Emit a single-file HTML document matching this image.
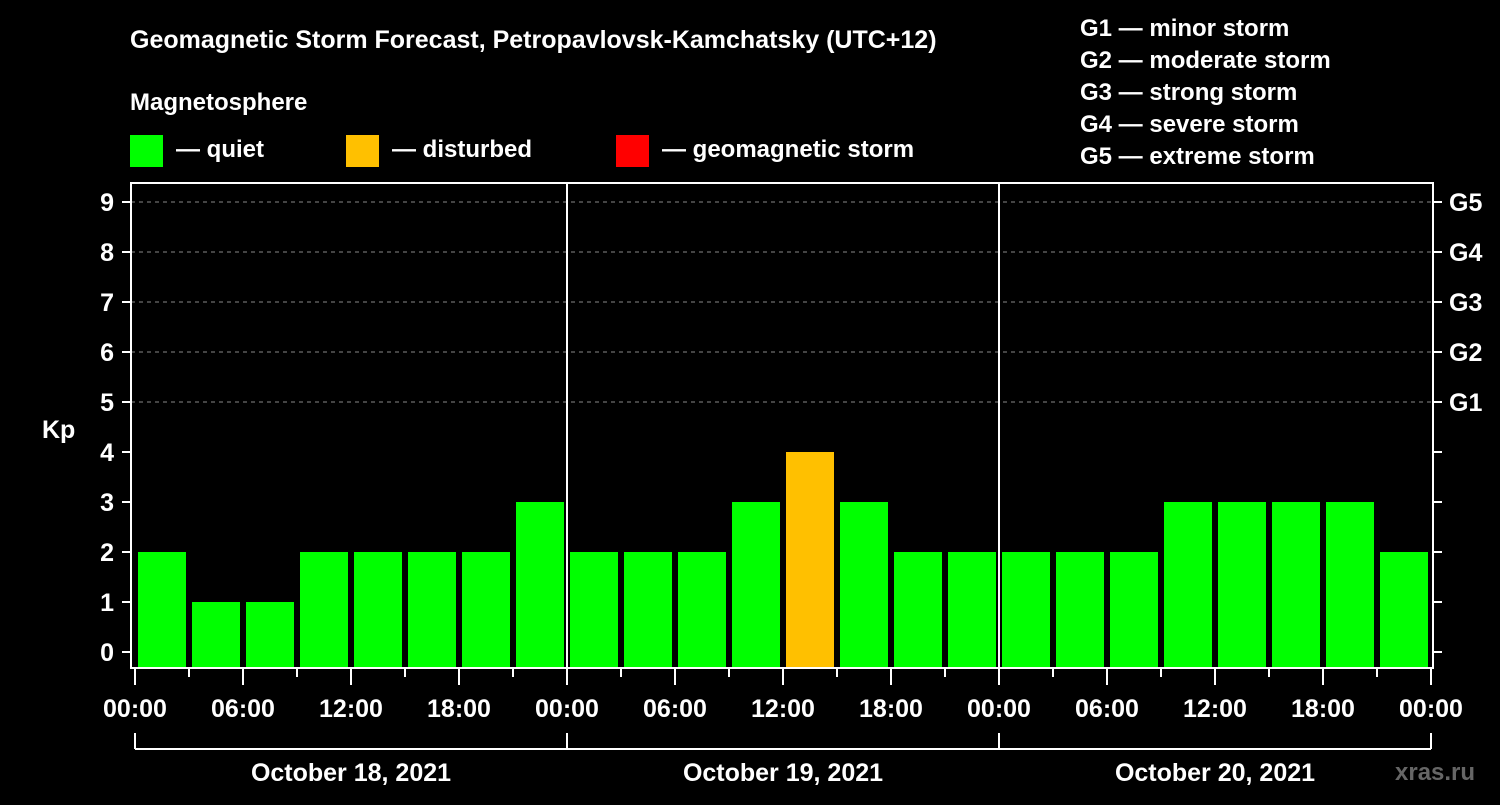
<!DOCTYPE html>
<html><head><meta charset="utf-8"><style>
body{margin:0;background:#000;width:1500px;height:800px;overflow:hidden}
svg text{font-family:"Liberation Sans",Arial,sans-serif;font-weight:bold;fill:#fff}
</style></head><body>
<svg id="c" width="1500" height="800">
<text x="130" y="48" font-size="25">Geomagnetic Storm Forecast, Petropavlovsk-Kamchatsky (UTC+12)</text>
<text x="130" y="110" font-size="24">Magnetosphere</text>
<g><rect x="130" y="135" width="33" height="32" fill="#00ff00"/><text x="176" y="157" font-size="24">— quiet</text></g>
<g><rect x="346" y="135" width="33" height="32" fill="#ffc000"/><text x="392" y="157" font-size="24">— disturbed</text></g>
<g><rect x="616" y="135" width="33" height="32" fill="#ff0000"/><text x="662" y="157" font-size="24">— geomagnetic storm</text></g>
<g font-size="24">
<text x="1080" y="36">G1 — minor storm</text><text x="1080" y="68">G2 — moderate storm</text><text x="1080" y="100">G3 — strong storm</text><text x="1080" y="132">G4 — severe storm</text><text x="1080" y="164">G5 — extreme storm</text></g>
<text x="42" y="438" font-size="25">Kp</text>
<text x="1395" y="780" font-size="24" fill="#555" style="fill:#666">xras.ru</text>
<g id="plot"></g>
</svg>
<script>
const days=["October 18, 2021","October 19, 2021","October 20, 2021"];
const kpValues=[2,1,1,2,2,2,2,3, 2,2,2,3,4,3,2,2, 2,2,2,3,3,3,3,2];
const yTicks=[0,1,2,3,4,5,6,7,8,9];
const gLabels=["G1","G2","G3","G4","G5"];
const hourLabels=["00:00","06:00","12:00","18:00"];
const NS="http://www.w3.org/2000/svg",g=document.getElementById('plot');
const L=131,R=1433,T=183,B=668,X0=135,dayW=432;
const y=v=>652-v*50, x=h=>X0+h*dayW/24;
function el(t,a,p){const e=document.createElementNS(NS,t);for(const k in a)e.setAttribute(k,a[k]);(p||g).appendChild(e);return e;}
yTicks.forEach(v=>{
 if(v>=5){const l=el('line',{x1:L,x2:R,y1:y(v),y2:y(v),stroke:'#888','stroke-dasharray':'4,4'});
 
 }
 el('line',{x1:122,x2:L,y1:y(v),y2:y(v),stroke:'#fff','stroke-width':2});
 el('line',{x1:R,x2:R+9,y1:y(v),y2:y(v),stroke:'#fff','stroke-width':2});
 const t=el('text',{x:114,y:y(v)+9,'font-size':25,'text-anchor':'end'});t.textContent=v;
 
 
});
gLabels.forEach((s,i)=>{const t=el('text',{x:1449,y:y(5+i)+9,'font-size':25});t.textContent=s;
 
 });
kpValues.forEach((v,i)=>{const c=v>=5?'#ff0000':v>=4?'#ffc000':'#00ff00';
 const r=el('rect',{x:x(i*3)+3,y:y(v),width:48,height:B-y(v),fill:c});
 
 });
days.forEach((d,i)=>{if(i>0)el('line',{x1:x(i*24),x2:x(i*24),y1:T,y2:B,stroke:'#fff','stroke-width':2});
 const t=el('text',{x:x(i*24+12),y:781,'font-size':25,'text-anchor':'middle'});t.textContent=d;
 
 });
el('rect',{x:L,y:T,width:R-L,height:B-T,fill:'none',stroke:'#fff','stroke-width':2});
for(let h=0;h<=72;h+=3){el('line',{x1:x(h),x2:x(h),y1:B,y2:h%6?677:685,stroke:'#fff','stroke-width':2});
 if(h%6==0){const t=el('text',{x:x(h),y:717,'font-size':25,'text-anchor':'middle'});t.textContent=hourLabels[(h%24)/6];
 
 }}
el('line',{x1:x(0),x2:x(72),y1:749,y2:749,stroke:'#fff','stroke-width':2});
for(let d=0;d<=3;d++)el('line',{x1:x(d*24),x2:x(d*24),y1:733,y2:749,stroke:'#fff','stroke-width':2});
</script>
</body></html>
